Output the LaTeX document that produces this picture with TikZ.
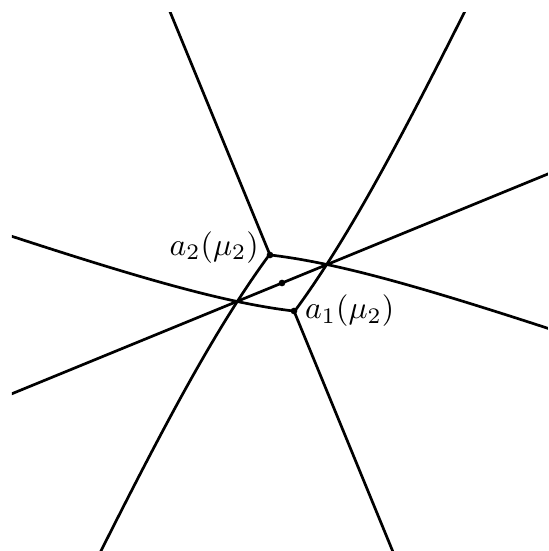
\documentclass[tikz,border=0pt]{standalone}
\usepackage{amsmath}
\usetikzlibrary{math}

\begin{document}
\begin{tikzpicture}[x=0.315pt,y=0.315pt]
\tikzmath{
\lw=0.85;
\r=1.05;%dot radius in pt
\s=100;%decay length
}
\useasboundingbox (-282,-268) rectangle (266,283);
\coordinate (c) at (0,0);
\coordinate (a2) at (-12,28);
\coordinate (a1) at (12,-28);

\begin{scope}
\clip (-270,-268) rectangle (266,271);
\draw[line width=\lw pt] (-300,-123) -- (300,123);

\draw[line width=\lw pt] (a2) -- ++(-120,292);
\draw[line width=\lw pt] plot[domain=-12:310, variable=\x, samples=80] ({\x},{-0.34*\x+46.5-20*exp(-\x/\s)});
\draw[line width=\lw pt] plot[domain=-28:320, variable=\y, samples=80] ({0.49*\y+51-18.5*exp(-\y/\s)},{\y});

\begin{scope}[rotate=180]
\draw[line width=\lw pt] (-12,28) -- ++(-120,292);
\draw[line width=\lw pt] plot[domain=-12:310, variable=\x, samples=80] ({\x},{-0.34*\x+46.5-20*exp(-\x/\s)});
\draw[line width=\lw pt] plot[domain=-28:320, variable=\y, samples=80] ({0.49*\y+51-18.5*exp(-\y/\s)},{\y});
\end{scope}
\end{scope}

\fill (a1) circle (\r pt) (a2) circle (\r pt) (c) circle (\r pt);
\node[anchor=base east] (la2) at (a2) {$a_2(\mu_2)$};
\node[right] (la1) at (a1) {$a_1(\mu_2)$};
\end{tikzpicture}
\end{document}
